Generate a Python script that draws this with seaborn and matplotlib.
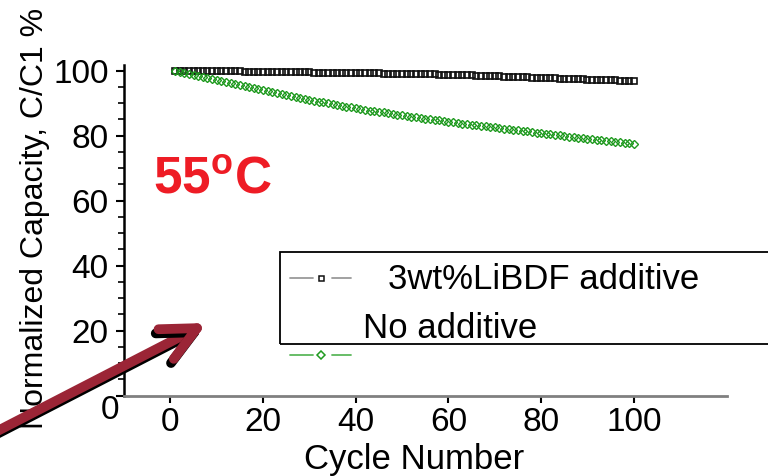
import numpy as np
import seaborn as sns
import matplotlib.pyplot as plt
import matplotlib.patheffects as pe
from matplotlib.patches import Rectangle, FancyArrowPatch
from matplotlib.lines import Line2D
from matplotlib.transforms import ScaledTranslation

cycles = np.arange(1, 101)

# 3wt% LiBDF additive (black open squares)
with_additive = [
    100.0, 100.0, 100.0, 99.9, 99.9, 99.9, 99.9, 99.9, 99.9, 99.8,
    99.8, 99.8, 99.8, 99.8, 99.8, 99.7, 99.7, 99.7, 99.7, 99.7,
    99.6, 99.6, 99.6, 99.6, 99.6, 99.5, 99.5, 99.5, 99.5, 99.5,
    99.4, 99.4, 99.4, 99.4, 99.3, 99.3, 99.3, 99.3, 99.2, 99.2,
    99.2, 99.2, 99.1, 99.1, 99.1, 99.0, 99.0, 99.0, 99.0, 98.9,
    98.9, 98.9, 98.9, 98.8, 98.8, 98.8, 98.8, 98.7, 98.7, 98.7,
    98.6, 98.6, 98.6, 98.5, 98.5, 98.4, 98.4, 98.3, 98.3, 98.2,
    98.2, 98.1, 98.1, 98.0, 98.0, 97.9, 97.9, 97.8, 97.8, 97.7,
    97.7, 97.6, 97.6, 97.5, 97.5, 97.4, 97.4, 97.3, 97.3, 97.2,
    97.2, 97.1, 97.1, 97.0, 97.0, 97.0, 96.9, 96.9, 96.9, 96.8,
]

# no additive (green open diamonds)
no_additive = [
    100.0, 99.6, 99.3, 99.0, 98.7, 98.4, 98.0, 97.7, 97.4, 97.1,
    96.8, 96.5, 96.2, 95.9, 95.6, 95.3, 95.0, 94.6, 94.3, 94.0,
    93.7, 93.4, 93.1, 92.8, 92.5, 92.2, 91.9, 91.6, 91.3, 91.0,
    90.7, 90.4, 90.2, 89.9, 89.7, 89.4, 89.2, 88.9, 88.7, 88.4,
    88.2, 88.0, 87.7, 87.5, 87.3, 87.1, 86.8, 86.6, 86.4, 86.2,
    86.0, 85.8, 85.6, 85.4, 85.2, 85.0, 84.8, 84.7, 84.5, 84.3,
    84.1, 83.9, 83.7, 83.5, 83.4, 83.2, 83.0, 82.8, 82.7, 82.5,
    82.3, 82.1, 82.0, 81.8, 81.6, 81.4, 81.3, 81.1, 80.9, 80.8,
    80.6, 80.4, 80.2, 80.1, 79.9, 79.7, 79.6, 79.4, 79.2, 79.0,
    78.9, 78.7, 78.5, 78.4, 78.2, 78.0, 77.9, 77.7, 77.6, 77.4,
]

labels = ["3wt%LiBDF additive", "No additive"]
xticks = [0, 20, 40, 60, 80, 100]
yticks = [0, 20, 40, 60, 80, 100]

sns.set_theme(style="white")
plt.rcParams["font.family"] = ["Liberation Sans", "DejaVu Sans"]
plt.rcParams["text.color"] = "black"
plt.rcParams["axes.labelcolor"] = "black"
plt.rcParams["xtick.color"] = "black"
plt.rcParams["ytick.color"] = "black"
plt.rcParams["mathtext.fontset"] = "custom"
plt.rcParams["mathtext.rm"] = "Liberation Sans"
plt.rcParams["mathtext.bf"] = "Liberation Sans:bold"

black = "#111111"
green = "#1f9a1f"
red = "#ee1c25"

fig, ax = plt.subplots(figsize=(7.68, 4.76), dpi=100)
fig.subplots_adjust(left=0.1615, right=0.946, bottom=0.1687, top=0.8634)

sns.lineplot(x=cycles, y=with_additive, ax=ax, color=black, marker="s",
             linestyle="", markersize=3.8, markerfacecolor="none",
             markeredgecolor=black, markeredgewidth=1.2, legend=False)
sns.lineplot(x=cycles, y=no_additive, ax=ax, color=green, marker="D",
             linestyle="", markersize=3.6, markerfacecolor="none",
             markeredgecolor=green, markeredgewidth=1.0, legend=False)

ax.set_xlim(-10, 120)
ax.set_ylim(0, 101.7)
ax.set_xticks(xticks)
ax.set_yticks(yticks)
ax.set_yticks(np.arange(0, 101, 5), minor=True)
ax.tick_params(axis="both", labelsize=24, colors="black")
ax.tick_params(axis="x", direction="out", length=5, width=1.5, pad=3, bottom=True)
ax.tick_params(axis="y", which="major", direction="out", length=6, width=1.5, pad=5, left=True)
ax.tick_params(axis="y", which="minor", direction="out", length=4, width=1.2, left=True)

for s in ["top", "right"]:
    ax.spines[s].set_visible(False)
ax.spines["left"].set_color("black")
ax.spines["left"].set_linewidth(1.8)
ax.spines["bottom"].set_color("#808080")
ax.spines["bottom"].set_linewidth(2)

# the "0" label sits lower and to the right in the original
zero = ax.get_yticklabels()[0]
zero.set_transform(zero.get_transform() + ScaledTranslation(0.10, -0.11, fig.dpi_scale_trans))

ax.set_xlabel("Cycle Number", fontsize=25)
ax.xaxis.set_label_coords(0.481, -0.143)
ax.set_ylabel("Normalized Capacity, C/C1 %", fontsize=23)
ax.yaxis.set_label_coords(-0.123, 0.537)

fig.text(153 / 768, 1 - 193 / 476, r"55$^{\mathbf{o}}$C", color=red,
         fontsize=37, fontweight="bold", ha="left", va="baseline")

# legend drawn by hand (box, handles, labels)
fig.add_artist(Rectangle((280 / 768, 1 - 344 / 476), 500 / 768, 92 / 476,
                         transform=fig.transFigure, fill=False,
                         edgecolor="black", linewidth=1.3))
for y, lc, mk, mc in [(277.7, "#9a9a9a", "s", black), (355, "#5cb85c", "D", green)]:
    yf = 1 - y / 476
    for x0, x1 in [(290, 313), (332, 351)]:
        fig.add_artist(Line2D([x0 / 768, x1 / 768], [yf, yf], transform=fig.transFigure,
                              color=lc, linewidth=1.3))
    fig.add_artist(Line2D([321 / 768], [yf], transform=fig.transFigure, marker=mk,
                          linestyle="", markersize=3.6, markerfacecolor="none",
                          markeredgecolor=mc, markeredgewidth=1.1))
fig.text(388 / 768, 1 - 289 / 476, labels[0], fontsize=25, ha="left", va="baseline")
fig.text(363 / 768, 1 - 338 / 476, labels[1], fontsize=25, ha="left", va="baseline")

# dark red arrow with black shadow
arrow = FancyArrowPatch((-20 / 768, 1 - 440 / 476), (207 / 768, 1 - 323 / 476),
                        transform=fig.transFigure,
                        arrowstyle="->,head_length=25,head_width=12",
                        mutation_scale=1, shrinkA=0, shrinkB=0,
                        color="#9b2536", linewidth=7, capstyle="round",
                        joinstyle="round", zorder=10,
                        path_effects=[pe.Stroke(offset=(-2, -3), foreground="black", linewidth=7),
                                      pe.Normal()])
fig.add_artist(arrow)

fig.savefig("out.png", dpi=100)
